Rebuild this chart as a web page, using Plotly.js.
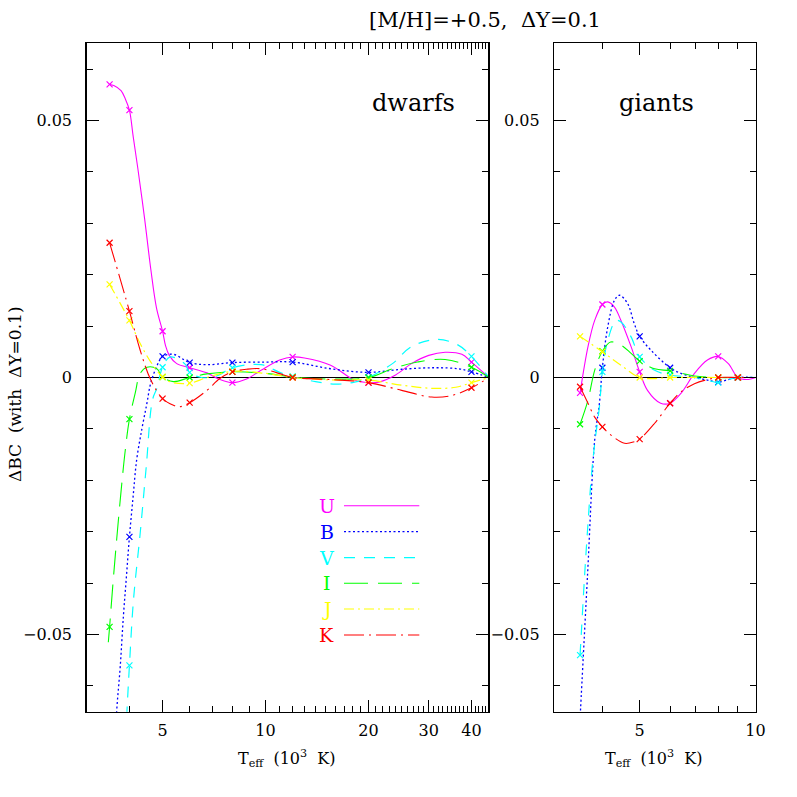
<!DOCTYPE html>
<html>
<head>
<meta charset="utf-8">
<script src="https://cdn.plot.ly/plotly-3.0.1.min.js"></script>
<style>html,body{margin:0;padding:0;background:#fff;}#chart{width:797px;height:797px;}</style>
</head>
<body>
<div id="chart"></div>
<script>
// ---------------- DATA ----------------
const bands = ['U', 'B', 'V', 'I', 'J', 'K'];

// Marker temperatures (10^3 K)
const dwarfT = [3.5, 4, 5, 6, 8, 12, 20, 40];
const giantT = [3.5, 4, 5, 6, 8, 9];

// Dwarfs: marker values (ΔBC)
const dwarfMarkU = [0.0570, 0.0520, 0.0090, 0.0019, -0.0010, 0.0040, -0.0010, 0.0030];
const dwarfMarkB = [null, -0.0310, 0.0041, 0.0029, 0.0029, 0.0030, 0.0010, 0.0011];
const dwarfMarkV = [null, -0.0560, 0.0020, 0.0010, 0.0019, 0.0002, 0.0000, 0.0041];
const dwarfMarkI = [-0.0485, -0.0081, 0.0001, 0.0000, 0.0011, 0.0001, 0.0000, 0.0020];
const dwarfMarkJ = [0.0181, 0.0111, 0.0001, -0.0011, 0.0012, 0.0000, -0.0005, -0.0010];
const dwarfMarkK = [0.0262, 0.0129, -0.0041, -0.0049, 0.0011, 0.0000, -0.0010, -0.0020];

// Dwarfs: curve samples
const dwarfCurveTU = [3.5, 3.6, 3.78, 3.89, 4.0, 4.1, 4.23, 4.43, 4.62, 4.8, 5.0, 5.1, 5.23, 5.5, 6.0, 6.74, 7.3, 8.0, 8.8, 9.7, 11, 12, 13, 15.5, 18.2, 20, 21.4, 24, 26.7, 30, 33.5, 37.5, 40, 45];
const dwarfCurveU  = [0.0570, 0.0568, 0.0558, 0.0542, 0.0520, 0.0470, 0.0408, 0.0309, 0.0210, 0.0135, 0.0090, 0.0062, 0.0043, 0.0027, 0.0019, 0.0009, -0.0003, -0.0010, -0.0003, 0.0014, 0.0034, 0.0040, 0.0038, 0.0024, -0.0005, -0.0010, -0.0009, 0.0005, 0.0027, 0.0043, 0.0049, 0.0045, 0.0030, 0.0];

const dwarfCurveTB = [3.62, 3.67, 3.76, 3.84, 3.92, 4.0, 4.1, 4.2, 4.35, 4.5, 4.62, 4.87, 5.0, 5.38, 6.0, 6.8, 8.0, 10, 12, 15.5, 20, 25, 31.2, 36.6, 40, 45];
const dwarfCurveB  = [-0.0740, -0.0650, -0.0562, -0.0465, -0.0387, -0.0310, -0.0232, -0.0160, -0.0100, -0.0050, -0.0010, 0.0030, 0.0041, 0.0045, 0.0029, 0.0025, 0.0029, 0.0030, 0.0030, 0.0017, 0.0010, 0.0016, 0.0019, 0.0017, 0.0011, 0.0];

const dwarfCurveTV = [3.90, 3.935, 4.0, 4.11, 4.3, 4.48, 4.67, 4.81, 5.0, 5.26, 5.8, 6.0, 6.5, 7.2, 8.0, 9.7, 11, 12, 14, 16, 18.2, 20, 23.5, 26.7, 31.9, 36.6, 40, 45];
const dwarfCurveV  = [-0.0700, -0.0647, -0.0560, -0.0433, -0.0303, -0.0173, -0.0044, -0.0021, 0.0020, 0.0040, 0.0027, 0.0010, 0.0000, 0.0003, 0.0019, 0.0025, 0.0010, 0.0002, -0.0008, -0.0013, -0.0009, 0.0000, 0.0027, 0.0060, 0.0074, 0.0063, 0.0041, 0.0];

const dwarfCurveTI = [3.47, 3.5, 3.6, 3.76, 3.89, 4.0, 4.16, 4.3, 4.5, 4.81, 5.0, 5.38, 6.0, 6.74, 8.0, 10, 12, 15.5, 20, 23.5, 27.8, 33.5, 40, 45];
const dwarfCurveI  = [-0.0515, -0.0485, -0.0381, -0.0238, -0.0141, -0.0081, -0.0030, 0.0008, 0.0020, 0.0017, 0.0001, -0.0008, 0.0000, 0.0007, 0.0011, 0.0008, 0.0001, -0.0003, 0.0000, 0.0017, 0.0030, 0.0035, 0.0020, 0.0];

const dwarfCurveTJ = [3.5, 4.0, 4.3, 4.62, 5.0, 5.3, 6.0, 6.74, 8.0, 10, 12, 16, 20, 25, 30.6, 36, 40, 45];
const dwarfCurveJ  = [0.0181, 0.0111, 0.0066, 0.0030, 0.0001, -0.0009, -0.0011, 0.0000, 0.0012, 0.0008, 0.0000, -0.0005, -0.0005, -0.0015, -0.0021, -0.0019, -0.0010, 0.0];

const dwarfCurveTK = [3.5, 4.0, 4.3, 4.62, 5.0, 5.38, 5.6, 6.0, 6.74, 7.35, 8.0, 8.8, 9.7, 11.3, 12, 15.5, 20, 25, 30.6, 35, 40, 45];
const dwarfCurveK  = [0.0262, 0.0129, 0.0053, -0.0005, -0.0041, -0.0054, -0.0057, -0.0049, -0.0025, -0.0002, 0.0011, 0.0016, 0.0017, 0.0005, 0.0000, -0.0004, -0.0010, -0.0025, -0.0038, -0.0035, -0.0020, 0.0];

// Giants: marker values (ΔBC)
const giantMarkU = [-0.0030, 0.0142, 0.0011, -0.0050, 0.0041, 0.0000];
const giantMarkB = [null, 0.0019, 0.0080, 0.0019, -0.0009, 0.0000];
const giantMarkV = [-0.0540, 0.0011, 0.0040, 0.0005, -0.0010, 0.0000];
const giantMarkI = [-0.0091, 0.0051, 0.0032, 0.0013, 0.0000, 0.0000];
const giantMarkJ = [0.0080, 0.0050, 0.0000, 0.0000, 0.0000, 0.0000];
const giantMarkK = [-0.0018, -0.0096, -0.0120, -0.0050, 0.0000, 0.0000];

// Giants: curve samples
const giantCurveTU = [3.5, 3.67, 3.82, 4.0, 4.13, 4.3, 4.47, 4.75, 5.0, 5.24, 5.67, 6.0, 6.4, 6.94, 7.5, 8.0, 8.5, 9.0, 9.5, 10];
const giantCurveU  = [-0.0030, 0.0060, 0.0111, 0.0142, 0.0147, 0.0137, 0.0111, 0.0060, 0.0011, -0.0025, -0.0050, -0.0050, -0.0031, 0.0008, 0.0034, 0.0041, 0.0027, 0.0000, -0.0004, 0.0];

const giantCurveTB = [3.48, 3.51, 3.66, 3.82, 3.93, 4.0, 4.13, 4.3, 4.43, 4.65, 4.84, 5.0, 5.35, 6.0, 6.4, 6.94, 7.5, 8.0, 8.5, 9.0, 10];
const giantCurveB  = [-0.0700, -0.0646, -0.0384, -0.0122, -0.0050, 0.0019, 0.0098, 0.0150, 0.0160, 0.0144, 0.0105, 0.0080, 0.0053, 0.0019, 0.0008, 0.0000, -0.0005, -0.0009, -0.0004, 0.0000, 0.0];

const giantCurveTV = [3.5, 3.53, 3.6, 3.67, 3.75, 3.83, 3.93, 4.0, 4.13, 4.34, 4.47, 4.75, 5.0, 5.47, 6.0, 6.94, 7.5, 8.0, 8.5, 9.0, 10];
const giantCurveV  = [-0.0540, -0.0491, -0.0380, -0.0284, -0.0187, -0.0122, -0.0057, 0.0011, 0.0072, 0.0111, 0.0108, 0.0079, 0.0040, 0.0014, 0.0005, 0.0000, -0.0005, -0.0010, -0.0004, 0.0000, 0.0];

const giantCurveTI = [3.5, 3.67, 3.82, 4.0, 4.2, 4.47, 4.75, 5.0, 5.47, 6.0, 6.94, 8.0, 9.0, 10];
const giantCurveI  = [-0.0091, -0.0044, 0.0014, 0.0051, 0.0069, 0.0063, 0.0047, 0.0032, 0.0017, 0.0013, 0.0003, 0.0000, 0.0000, 0.0];

const giantCurveTJ = [3.5, 4.0, 4.47, 5.0, 5.5, 6.0, 8.0, 9.0, 10];
const giantCurveJ  = [0.0080, 0.0050, 0.0024, 0.0000, -0.0002, 0.0000, 0.0000, 0.0000, 0.0];

const giantCurveTK = [3.5, 3.67, 3.82, 4.0, 4.21, 4.57, 4.84, 5.0, 5.47, 6.0, 6.4, 6.94, 7.5, 8.0, 9.0, 10];
const giantCurveK  = [-0.0018, -0.0050, -0.0077, -0.0096, -0.0112, -0.0128, -0.0125, -0.0120, -0.0089, -0.0050, -0.0028, -0.0012, -0.0004, 0.0000, 0.0000, 0.0];

// Tick labels
const dwarfTickVals = [5, 10, 20, 30, 40];
const dwarfTickText = ['5', '10', '20', '30', '40'];
const giantTickVals = [5, 10];
const giantTickText = ['5', '10'];
const yTickVals = [-0.05, 0, 0.05];
const yTickText = ['\u22120.05', '0', '0.05'];

// ---------------- STYLE ----------------
const colors = {U: '#ff00ff', B: '#0000ff', V: '#00ffff', I: '#00ff00', J: '#ffff00', K: '#ff0000'};
const dashes = {U: 'solid', B: '2px,2.5px', V: '11px,9px', I: '24px,10px', J: '10px,4px,2px,4px', K: '20px,5px,2px,5px'};
const widths = {U: 1.1, B: 1.3, V: 1.2, I: 1.1, J: 1.2, K: 1.1};
const FONT = 'DejaVu Serif, serif';
const W = 797;

const dwarfCurves = {U: [dwarfCurveTU, dwarfCurveU], B: [dwarfCurveTB, dwarfCurveB], V: [dwarfCurveTV, dwarfCurveV],
                     I: [dwarfCurveTI, dwarfCurveI], J: [dwarfCurveTJ, dwarfCurveJ], K: [dwarfCurveTK, dwarfCurveK]};
const dwarfMarks = {U: dwarfMarkU, B: dwarfMarkB, V: dwarfMarkV, I: dwarfMarkI, J: dwarfMarkJ, K: dwarfMarkK};
const giantCurves = {U: [giantCurveTU, giantCurveU], B: [giantCurveTB, giantCurveB], V: [giantCurveTV, giantCurveV],
                     I: [giantCurveTI, giantCurveI], J: [giantCurveTJ, giantCurveJ], K: [giantCurveTK, giantCurveK]};
const giantMarks = {U: giantMarkU, B: giantMarkB, V: giantMarkV, I: giantMarkI, J: giantMarkJ, K: giantMarkK};

const traces = [];
function addPanel(curves, marks, tMarks, xa, ya) {
  bands.forEach(b => {
    traces.push({x: curves[b][0], y: curves[b][1], xaxis: xa, yaxis: ya, type: 'scatter', mode: 'lines',
      line: {color: colors[b], width: widths[b], dash: dashes[b], shape: 'spline', smoothing: 1},
      hoverinfo: 'skip', showlegend: false, cliponaxis: true});
    traces.push({x: tMarks, y: marks[b], xaxis: xa, yaxis: ya, type: 'scatter', mode: 'markers',
      marker: {symbol: 'x-thin', size: 6, color: colors[b], line: {color: colors[b], width: 1.2}},
      hoverinfo: 'skip', showlegend: false});
  });
}
addPanel(dwarfCurves, dwarfMarks, dwarfT, 'x', 'y');
addPanel(giantCurves, giantMarks, giantT, 'x2', 'y2');

// minor tick positions
const dwarfMinor = [];
for (let t = 4; t <= 44; t++) if (!dwarfTickVals.includes(t)) dwarfMinor.push(t);
const giantMinor = [4, 6, 7, 8, 9];
const yMinor = [-0.06, -0.04, -0.03, -0.02, -0.01, 0.01, 0.02, 0.03, 0.04, 0.06];

const yDom = [1 - 711.7 / W, 1 - 43.3 / W];
function xAxis(dom, range, tv, tt, minor) {
  return {type: 'log', domain: dom, range: range, tickmode: 'array', tickvals: tv, ticktext: tt,
    ticks: 'inside', ticklen: 12, tickwidth: 1, tickcolor: '#000', showline: true, linecolor: '#000', linewidth: 1.5,
    mirror: 'ticks', showgrid: false, zeroline: false, ticklabelstandoff: 4,
    tickfont: {family: FONT, size: 16, color: '#000'},
    minor: {tickmode: 'array', tickvals: minor, ticks: 'inside', ticklen: 6, tickwidth: 1, tickcolor: '#000', showgrid: false}};
}
function yAxis(anchor) {
  return {domain: yDom, range: [-0.065, 0.065], anchor: anchor, tickmode: 'array', tickvals: yTickVals, ticktext: yTickText,
    ticks: 'inside', ticklen: 12, tickwidth: 1, tickcolor: '#000', showline: true, linecolor: '#000', linewidth: 1.5,
    mirror: 'ticks', showgrid: false, zeroline: true, zerolinecolor: '#000', zerolinewidth: 1, ticklabelstandoff: 10,
    tickfont: {family: FONT, size: 16, color: '#000'},
    minor: {tickmode: 'array', tickvals: yMinor, ticks: 'inside', ticklen: 6, tickwidth: 1, tickcolor: '#000', showgrid: false}};
}

const xa1 = xAxis([86.7 / W, 488.3 / W], [Math.log10(3.0), Math.log10(44.8)], dwarfTickVals, dwarfTickText, dwarfMinor);
xa1.anchor = 'y';
const xa2 = xAxis([554.3 / W, 755.5 / W], [Math.log10(3.0), 1], giantTickVals, giantTickText, giantMinor);
xa2.anchor = 'y2';

const annotations = [
  {text: '[M/H]=+0.5,  \u0394Y=0.1', x: 485 / W, y: 1 - 20 / W, xref: 'paper', yref: 'paper', showarrow: false,
   font: {family: FONT, size: 21, color: '#000'}, xanchor: 'center', yanchor: 'middle'},
  {text: 'dwarfs', x: 413 / W, y: 1 - 103 / W, xref: 'paper', yref: 'paper', showarrow: false,
   font: {family: FONT, size: 24, color: '#000'}, xanchor: 'center', yanchor: 'middle'},
  {text: 'giants', x: 656.7 / W, y: 1 - 103 / W, xref: 'paper', yref: 'paper', showarrow: false,
   font: {family: FONT, size: 24, color: '#000'}, xanchor: 'center', yanchor: 'middle'},
  {text: 'T<sub>eff</sub>  (10<sup>3</sup>  K)', x: 287 / W, y: 1 - 758 / W, xref: 'paper', yref: 'paper', showarrow: false,
   font: {family: FONT, size: 16, color: '#000'}, xanchor: 'center', yanchor: 'middle'},
  {text: 'T<sub>eff</sub>  (10<sup>3</sup>  K)', x: 654 / W, y: 1 - 758 / W, xref: 'paper', yref: 'paper', showarrow: false,
   font: {family: FONT, size: 16, color: '#000'}, xanchor: 'center', yanchor: 'middle'},
  {text: '\u0394BC  (with  \u0394Y=0.1)', x: 15 / W, y: 1 - 394 / W, xref: 'paper', yref: 'paper', showarrow: false,
   textangle: -90, font: {family: FONT, size: 17, color: '#000'}, xanchor: 'center', yanchor: 'middle'}
];

// legend (labels left of line samples)
const legendY = [505.7, 531.7, 557.7, 583.3, 609, 635];
const shapes = [];
bands.forEach((b, i) => {
  annotations.push({text: b, x: 326.7 / W, y: 1 - legendY[i] / W, xref: 'paper', yref: 'paper', showarrow: false,
    font: {family: FONT, size: 19, color: colors[b]}, xanchor: 'center', yanchor: 'middle'});
  shapes.push({type: 'line', xref: 'paper', yref: 'paper', x0: 344 / W, x1: 419.3 / W, y0: 1 - legendY[i] / W, y1: 1 - legendY[i] / W,
    line: {color: colors[b], width: widths[b], dash: dashes[b]}});
});

const layout = {
  width: 797, height: 797, margin: {l: 0, r: 0, t: 0, b: 0},
  paper_bgcolor: '#fff', plot_bgcolor: '#fff', showlegend: false,
  xaxis: xa1, yaxis: yAxis('x'), xaxis2: xa2, yaxis2: yAxis('x2'),
  annotations: annotations, shapes: shapes
};

Plotly.newPlot('chart', traces, layout, {staticPlot: true, displayModeBar: false});
</script>
</body>
</html>
